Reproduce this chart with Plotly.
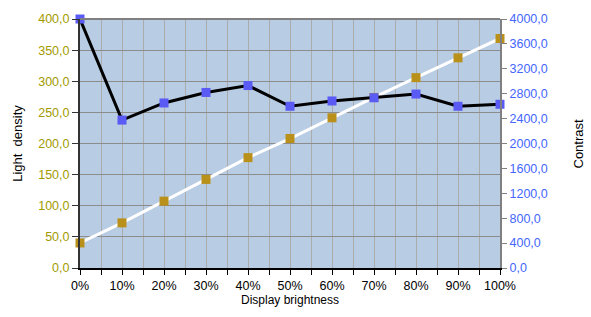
import plotly.graph_objects as go

brightness = [0, 10, 20, 30, 40, 50, 60, 70, 80, 90, 100]
x_labels = ["0%", "10%", "20%", "30%", "40%", "50%", "60%", "70%", "80%", "90%", "100%"]
light_density = [40.2, 72.5, 107.4, 142.3, 177.3, 208.0, 241.3, 274.0, 305.8, 337.6, 368.7]
contrast = [4000, 2376, 2651, 2820, 2931, 2598, 2683, 2735, 2794, 2598, 2630]

left_ticks = [0, 50, 100, 150, 200, 250, 300, 350, 400]
right_ticks = [0, 400, 800, 1200, 1600, 2000, 2400, 2800, 3200, 3600, 4000]

GOLD = "#B8901A"
BLUE = "#5A5AF5"
LEFT_LBL = "#A39A00"
RIGHT_LBL = "#4466FF"
FONT = "Liberation Sans"

fig = go.Figure()
fig.add_trace(go.Scatter(
    x=brightness, y=light_density, mode="lines+markers", yaxis="y",
    line=dict(color="white", width=3),
    marker=dict(symbol="square", size=9, color=GOLD),
    showlegend=False, cliponaxis=False))
fig.add_trace(go.Scatter(
    x=brightness, y=contrast, mode="lines+markers", yaxis="y2",
    line=dict(color="black", width=3),
    marker=dict(symbol="square", size=9, color=BLUE),
    showlegend=False, cliponaxis=False))

fig.update_layout(
    width=591, height=317,
    margin=dict(l=80, r=91, t=16, b=49),
    paper_bgcolor="white",
    plot_bgcolor="#B8CCE4",
    separators=",.",
    font=dict(family=FONT, size=12, color="black"),
    xaxis=dict(
        range=[0, 100], tickvals=brightness, ticktext=x_labels,
        showgrid=True, gridcolor="#ABABAB", gridwidth=1,
        ticks="outside", ticklen=5, tickcolor="black",
        showline=True, linecolor="black", linewidth=2,
        minor=dict(dtick=5, tick0=0, showgrid=True, gridcolor="#ABABAB",
                   ticks="outside", ticklen=5, tickcolor="black"),
        zeroline=False,
        title=dict(text="Display brightness", standoff=4,
                   font=dict(family=FONT, size=12)),
        tickfont=dict(family=FONT, size=12.5, color="black"),
    ),
    yaxis=dict(
        range=[0, 400], tickvals=left_ticks, tickformat=".1f",
        showgrid=True, gridcolor="#8C8C8C", gridwidth=1,
        ticks="outside", ticklen=6, tickcolor="#333333",
        showline=True, linecolor="#333333", linewidth=2,
        zeroline=False,
        tickfont=dict(family=FONT, size=12.5, color=LEFT_LBL),
        title=dict(text="Light  density", standoff=13,
                   font=dict(family=FONT, size=13)),
    ),
    yaxis2=dict(
        range=[0, 4000], tickvals=right_ticks, tickformat=".1f",
        overlaying="y", side="right", showgrid=False,
        ticks="outside", ticklen=5, tickcolor="#808080",
        showline=True, linecolor="#808080", linewidth=2,
        zeroline=False, automargin=False,
        tickfont=dict(family=FONT, size=12.5, color=RIGHT_LBL),
    ),
    annotations=[dict(text="Contrast", xref="paper", yref="paper",
                      x=(578 - 80) / 420, y=0.5, textangle=-90, showarrow=False,
                      xanchor="center", yanchor="middle",
                      font=dict(family=FONT, size=13, color="black"))],
    shapes=[dict(type="line", xref="paper", yref="paper", x0=0, x1=1, y0=1, y1=1,
                 line=dict(color="#808080", width=2), layer="above")],
)

fig.write_html("out.html")
